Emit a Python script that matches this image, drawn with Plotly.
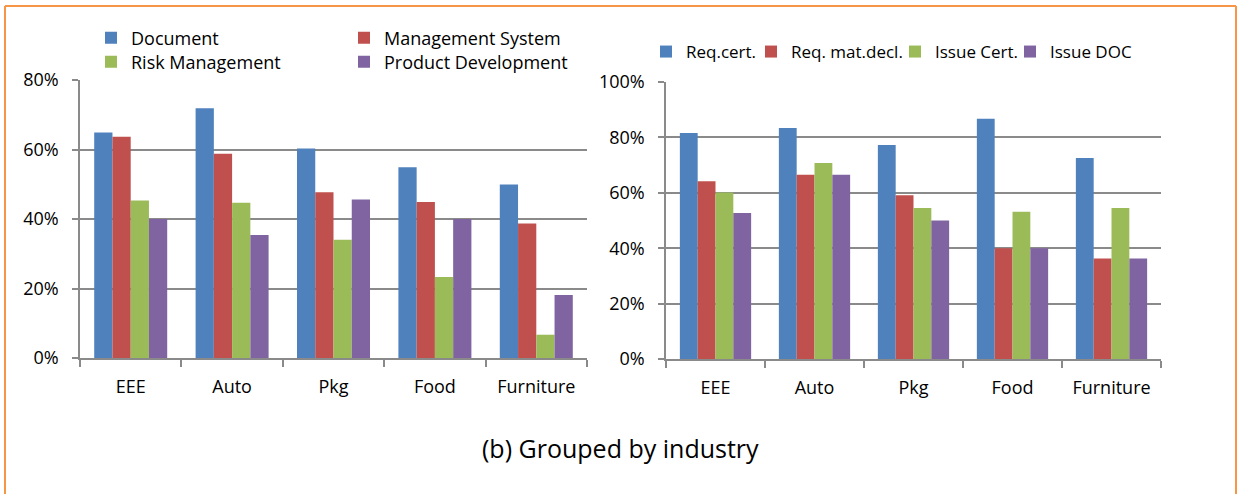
import plotly.graph_objects as go

industries = ["EEE", "Auto", "Pkg", "Food", "Furniture"]

# Left chart (share of companies)
document = [0.649, 0.719, 0.603, 0.549, 0.499]
management_system = [0.637, 0.588, 0.477, 0.449, 0.387]
risk_management = [0.453, 0.447, 0.340, 0.233, 0.067]
product_development = [0.400, 0.354, 0.456, 0.400, 0.181]

# Right chart
req_cert = [0.816, 0.834, 0.773, 0.867, 0.726]
req_mat_decl = [0.642, 0.665, 0.591, 0.400, 0.363]
issue_cert = [0.601, 0.708, 0.545, 0.532, 0.545]
issue_doc = [0.527, 0.665, 0.500, 0.400, 0.363]

left_names = ["Document", "Management System", "Risk Management", "Product Development"]
right_names = ["Req.cert.", "Req. mat.decl.", "Issue Cert.", "Issue DOC"]
colors = ["#4F81BD", "#C0504D", "#9BBB59", "#8064A2"]

FONT = "Open Sans, sans-serif"
W, H = 1240, 494

fig = go.Figure()
left_series = [document, management_system, risk_management, product_development]
left_legends = ["legend", "legend", "legend2", "legend2"]
for name, vals, col, lg in zip(left_names, left_series, colors, left_legends):
    fig.add_trace(go.Bar(x=industries, y=vals, name=name, marker=dict(color=col, line=dict(width=0)),
                         xaxis="x", yaxis="y", legend=lg))

right_series = [req_cert, req_mat_decl, issue_cert, issue_doc]
right_lw = [60, 99, 70, None]
for name, vals, col, lw in zip(right_names, right_series, colors, right_lw):
    fig.add_trace(go.Bar(x=industries, y=vals, name=name, marker=dict(color=col, line=dict(width=0)),
                         xaxis="x2", yaxis="y2", legend="legend3", legendwidth=lw))

grid = "#8A8A8A"
xcommon = dict(type="category", showline=True, linecolor=grid, linewidth=1.5,
               ticks="outside", tickson="boundaries", ticklen=7, tickcolor=grid, tickwidth=1.5,
               showgrid=False, tickfont=dict(size=18, color="#000000", family=FONT),
               ticklabelstandoff=12)
ycommon = dict(showline=True, linecolor=grid, linewidth=1.5, ticks="outside", ticklen=6,
               tickcolor=grid, tickwidth=1.5, showgrid=True, gridcolor=grid, gridwidth=1.5,
               tickformat=".0%", dtick=0.2, zeroline=False, ticklabelstandoff=10,
               tickfont=dict(size=18, color="#000000", family=FONT))

def px(x):
    return x / W

def py(y):
    return (H - y) / H

legfont = dict(size=18, family=FONT, color="#000000")
legfont_r = dict(size=17, family=FONT, color="#000000")

fig.update_layout(
    width=W, height=H,
    margin=dict(l=0, r=0, t=0, b=0, autoexpand=False),
    paper_bgcolor="white", plot_bgcolor="white",
    barmode="group", bargap=0.28, bargroupgap=0,
    font=dict(family=FONT, color="#000000"),
    xaxis=dict(domain=[px(80), px(587)], anchor="y", **xcommon),
    yaxis=dict(domain=[py(358), py(80)], anchor="x", range=[0, 0.8], **ycommon),
    xaxis2=dict(domain=[px(666), px(1161)], anchor="y2", **xcommon),
    yaxis2=dict(domain=[py(359), py(82)], anchor="x2", range=[0, 1.0], **ycommon),
    legend=dict(orientation="h", x=px(91), xanchor="left", y=py(38), yanchor="middle",
                entrywidth=208, font=legfont, bgcolor="rgba(0,0,0,0)"),
    legend2=dict(orientation="h", x=px(91), xanchor="left", y=py(62), yanchor="middle",
                 entrywidth=208, font=legfont, bgcolor="rgba(0,0,0,0)"),
    legend3=dict(orientation="h", x=px(646), xanchor="left", y=py(52), yanchor="middle",
                 font=legfont_r, bgcolor="rgba(0,0,0,0)"),
    annotations=[dict(text="(b) Grouped by industry", xref="paper", yref="paper",
                      x=0.5, y=py(448), xanchor="center", yanchor="middle", showarrow=False,
                      font=dict(size=25, family=FONT, color="#000000"))],
    shapes=[
        dict(type="line", xref="paper", yref="paper", x0=px(5), x1=px(1236), y0=py(6), y1=py(6),
             line=dict(color="#F79646", width=2)),
        dict(type="line", xref="paper", yref="paper", x0=px(5), x1=px(5), y0=0, y1=py(6),
             line=dict(color="#F79646", width=2)),
        dict(type="line", xref="paper", yref="paper", x0=px(1236), x1=px(1236), y0=0, y1=py(6),
             line=dict(color="#F79646", width=2)),
    ],
)

fig.write_html("out.html", config={"displayModeBar": False},
               post_script="document.body.style.margin='0';")
